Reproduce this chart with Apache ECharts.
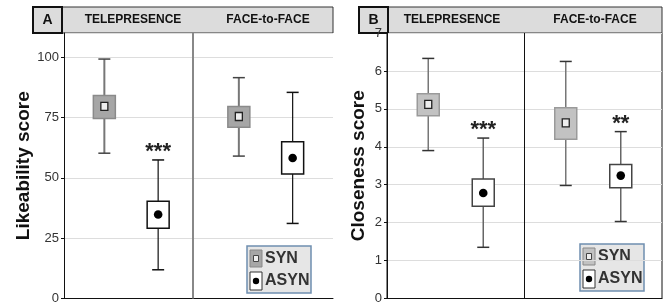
<!DOCTYPE html>
<html>
<head>
<meta charset="utf-8">
<style>
  html, body { margin: 0; padding: 0; background: #fff; }
  #chart { width: 670px; height: 305px; }
</style>
<script src="https://cdn.jsdelivr.net/npm/echarts@6/dist/echarts.min.js"></script>
</head>
<body>
<div id="chart"></div>
<script>
  /* data: [low whisker, q1, mean, q3, high whisker] per condition */
  var groups = ['TELEPRESENCE', 'FACE-to-FACE'];
  var synPos = [0.75, 3.25];
  var asynPos = [1.75, 4.25];

  var likeSyn = [[60.2, 74.6, 79.6, 84.1, 99.2], [59.0, 70.9, 75.4, 79.5, 91.5]];
  var likeAsyn = [[11.9, 29.1, 34.8, 40.3, 57.4], [31.1, 51.6, 58.2, 64.9, 85.4]];
  var likeStars = ['***', ''];
  var likeTicks = { min: 0, max: 110, interval: 25 };

  var closeSyn = [[3.90, 4.82, 5.12, 5.40, 6.33], [2.98, 4.20, 4.63, 5.03, 6.25]];
  var closeAsyn = [[1.35, 2.43, 2.78, 3.15, 4.23], [2.03, 2.92, 3.24, 3.53, 4.40]];
  var closeStars = ['***', '**'];
  var closeTicks = { min: 0, max: 7, interval: 1 };

  var FONT = 'Liberation Sans, Arial, sans-serif';

  function rows(pos, vals, stars) {
    return vals.map(function (v, i) {
      return [pos[i]].concat(v).concat([stars ? stars[i] : '']);
    });
  }

  function boxSeries(idx, data, st) {
    return {
      type: 'custom',
      xAxisIndex: idx,
      yAxisIndex: idx,
      data: data,
      z: 5,
      renderItem: function (params, api) {
        var x = api.value(0);
        var lo = api.coord([x, api.value(1)]);
        var q1 = api.coord([x, api.value(2)]);
        var mn = api.coord([x, api.value(3)]);
        var q3 = api.coord([x, api.value(4)]);
        var hi = api.coord([x, api.value(5)]);
        var star = data[params.dataIndex][6];
        var cx = lo[0];
        var bw = 22, cw = 12;
        var kids = [
          { type: 'line', shape: { x1: cx, y1: lo[1], x2: cx, y2: hi[1] }, style: { stroke: st.whisker, lineWidth: st.wl } },
          { type: 'line', shape: { x1: cx - cw / 2, y1: hi[1], x2: cx + cw / 2, y2: hi[1] }, style: { stroke: st.cap, lineWidth: 1.5 } },
          { type: 'line', shape: { x1: cx - cw / 2, y1: lo[1], x2: cx + cw / 2, y2: lo[1] }, style: { stroke: st.cap, lineWidth: 1.5 } },
          { type: 'rect', shape: { x: cx - bw / 2, y: q3[1], width: bw, height: q1[1] - q3[1] }, style: { fill: st.fill, stroke: st.border, lineWidth: 1.5 } }
        ];
        if (st.mean === 'square') {
          kids.push({ type: 'rect', shape: { x: cx - 3.5, y: mn[1] - 4, width: 7, height: 8 }, style: { fill: '#eeeeee', stroke: '#222', lineWidth: 1.3 } });
        } else {
          kids.push({ type: 'circle', shape: { cx: cx, cy: mn[1], r: 4.3 }, style: { fill: '#000' } });
        }
        if (star) {
          kids.push({ type: 'text', x: cx, y: hi[1] + 3, style: { text: star, fill: '#222', font: 'bold 22px ' + FONT, align: 'center', verticalAlign: 'bottom' } });
        }
        return { type: 'group', children: kids };
      }
    };
  }

  function divider(idx, xv, color, w) {
    return {
      type: 'line',
      xAxisIndex: idx,
      yAxisIndex: idx,
      data: [],
      markLine: {
        silent: true,
        symbol: 'none',
        label: { show: false },
        lineStyle: { color: color, width: w, type: 'solid' },
        data: [{ xAxis: xv }]
      }
    };
  }

  function yAx(idx, t, name, gap, showMax) {
    return {
      type: 'value',
      gridIndex: idx,
      min: t.min, max: t.max, interval: t.interval,
      name: name,
      nameLocation: 'middle',
      nameGap: gap,
      nameTextStyle: { fontFamily: FONT, fontWeight: 'bold', fontSize: 19, color: '#111' },
      axisLine: { show: true, lineStyle: { color: '#111', width: 1 } },
      axisTick: { show: true, length: 3, lineStyle: { color: '#111' } },
      axisLabel: { color: '#333', fontSize: 13, fontFamily: FONT, margin: 5, showMaxLabel: showMax },
      splitLine: { show: true, lineStyle: { color: '#dddddd', width: 1 } }
    };
  }

  function xAx(idx) {
    return {
      type: 'value',
      gridIndex: idx,
      min: 0, max: 5,
      axisLine: { show: true, onZero: false, lineStyle: { color: '#111', width: 1 } },
      axisTick: { show: false },
      axisLabel: { show: false },
      splitLine: { show: false }
    };
  }

  function header(x0, x1, letter, cols) {
    var lw = 29;
    var items = [
      { type: 'rect', shape: { x: x0, y: 7, width: x1 - x0, height: 26 }, style: { fill: '#dcdcdc', stroke: '#333', lineWidth: 1 } },
      { type: 'rect', shape: { x: x0, y: 7, width: lw, height: 26 }, style: { fill: '#dcdcdc', stroke: '#111', lineWidth: 2 } },
      { type: 'text', x: x0 + lw / 2, y: 20, style: { text: letter, font: 'bold 14px ' + FONT, fill: '#111', align: 'center', verticalAlign: 'middle' } }
    ];
    groups.forEach(function (g, i) {
      items.push({ type: 'text', x: cols[i], y: 20, style: { text: g, font: 'bold 12px ' + FONT, fill: '#111', align: 'center', verticalAlign: 'middle' } });
    });
    return { type: 'group', z: 100, zlevel: 1, children: items };
  }

  function legendBox(x, y, synFill) {
    return {
      type: 'group', z: 100, x: x, y: y,
      children: [
        { type: 'rect', shape: { x: 0, y: 0, width: 64, height: 47 }, style: { fill: '#e6e6e6', stroke: '#6f8fb0', lineWidth: 1.5 } },
        { type: 'rect', shape: { x: 3, y: 4, width: 12, height: 17 }, style: { fill: synFill, stroke: '#888', lineWidth: 1 } },
        { type: 'rect', shape: { x: 6.5, y: 9.5, width: 5, height: 6 }, style: { fill: '#eee', stroke: '#444', lineWidth: 1 } },
        { type: 'text', x: 18, y: 13, style: { text: 'SYN', font: 'bold 16px ' + FONT, fill: '#333', verticalAlign: 'middle' } },
        { type: 'rect', shape: { x: 3, y: 26, width: 12, height: 18 }, style: { fill: '#fff', stroke: '#333', lineWidth: 1 } },
        { type: 'circle', shape: { cx: 9, cy: 35, r: 3.2 }, style: { fill: '#000' } },
        { type: 'text', x: 18, y: 35, style: { text: 'ASYN', font: 'bold 16px ' + FONT, fill: '#333', verticalAlign: 'middle' } }
      ]
    };
  }

  var chart = echarts.init(document.getElementById('chart'));
  chart.setOption({
    animation: false,
    backgroundColor: '#fff',
    grid: [
      { left: 64, right: 337, top: 33, bottom: 4 },
      { left: 387, right: 8, top: 33, bottom: 5, show: true, borderColor: '#111', borderWidth: 1, backgroundColor: 'transparent' }
    ],
    xAxis: [xAx(0), xAx(1)],
    yAxis: [yAx(0, likeTicks, 'Likeability score', 30, false), yAx(1, closeTicks, 'Closeness score', 19, true)],
    series: [
      divider(0, 2.4, '#888', 2),
      divider(1, 2.5, '#111', 1),
      boxSeries(0, rows(synPos, likeSyn), { fill: '#a6a6a6', border: '#8a8a8a', whisker: '#777', cap: '#444', wl: 2, mean: 'square' }),
      boxSeries(0, rows(asynPos, likeAsyn, likeStars), { fill: '#fff', border: '#111', whisker: '#111', cap: '#111', wl: 1.2, mean: 'dot' }),
      boxSeries(1, rows(synPos, closeSyn), { fill: '#c2c2c2', border: '#9a9a9a', whisker: '#777', cap: '#333', wl: 1.5, mean: 'square' }),
      boxSeries(1, rows(asynPos, closeAsyn, closeStars), { fill: '#fff', border: '#444', whisker: '#666', cap: '#333', wl: 1.5, mean: 'dot' })
    ],
    graphic: [
      header(33, 333, 'A', [133, 268]),
      header(359, 662, 'B', [452, 595]),
      legendBox(247, 246, '#a6a6a6'),
      legendBox(580, 244, '#c2c2c2')
    ]
  });
</script>
</body>
</html>
